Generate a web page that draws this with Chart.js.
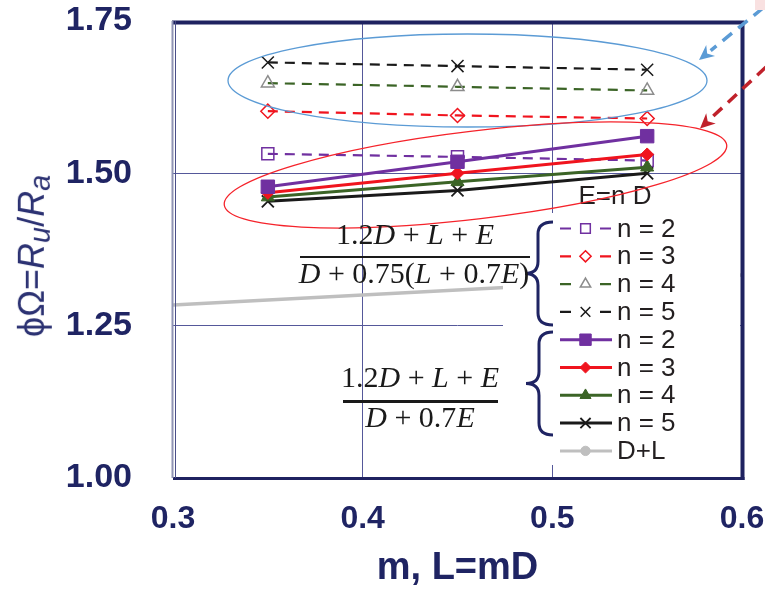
<!DOCTYPE html>
<html>
<head>
<meta charset="utf-8">
<script src="https://cdn.jsdelivr.net/npm/chart.js@4.4.1/dist/chart.umd.min.js"></script>
<style>
  body { margin: 0; background: #fff; }
  #wrap { position: relative; width: 765px; height: 589px; }
  .math { position: absolute; width: 300px; font-family: "Liberation Serif", serif; font-size: 30px; line-height: 30px; color: #1a1a1a; text-align: center; white-space: nowrap; }
  .bar { position: absolute; background: #1a1a1a; }
  #ytitle { position: absolute; left: 34px; top: 256px; transform: translate(-50%, -50%) rotate(-90deg); white-space: nowrap;
            font-family: "Liberation Sans", Arial, sans-serif; font-size: 36px; color: #2b3172; }
  #ytitle sub { font-size: 80%; vertical-align: -0.22em; }
</style>
</head>
<body>
<div id="wrap">
  <canvas id="myChart" width="765" height="589"></canvas>
  <div id="ytitle">ϕΩ=<i>R</i><sub><i>u</i></sub>/<i>R</i><sub><i>a</i></sub></div>

  <!-- ratio with 0.75 load combination -->
  <div class="math" style="left:265px; top:219px;">1.2<i>D</i> + <i>L</i> + <i>E</i></div>
  <div class="bar" style="left:300px; top:256px; width:230px; height:1.5px;"></div>
  <div class="math" style="left:264px; top:258px;"><i>D</i> + 0.75(<i>L</i> + 0.7<i>E</i>)</div>

  <!-- ratio with D + 0.7E -->
  <div class="math" style="left:270px; top:362px;">1.2<i>D</i> + <i>L</i> + <i>E</i></div>
  <div class="bar" style="left:343px; top:399.5px; width:155px; height:3px;"></div>
  <div class="math" style="left:270px; top:402px;"><i>D</i> + 0.7<i>E</i></div>
</div>

<script>
// m = L/D values where each case was evaluated
const mValues = [0.35, 0.45, 0.55];

// D + 0.75(L + 0.7E) denominator (dashed)
const dashN2 = [1.532, 1.527, 1.521];
const dashN3 = [1.602, 1.595, 1.590];
const dashN4 = [1.648, 1.642, 1.636];
const dashN5 = [1.682, 1.676, 1.670];

// D + 0.7E denominator (solid)
const solidN2 = [1.478, 1.519, 1.561];
const solidN3 = [1.468, 1.500, 1.531];
const solidN4 = [1.461, 1.486, 1.510];
const solidN5 = [1.454, 1.472, 1.500];

// D+L reference line
const dlM = [0.3, 0.6];
const dlValues = [1.284, 1.333];

const legendTitle = 'E=n D';
const seriesLabels = ['n = 2', 'n = 3', 'n = 4', 'n = 5', 'n = 2', 'n = 3', 'n = 4', 'n = 5', 'D+L'];

const xTicks = [0.3, 0.4, 0.5, 0.6];
const yTicks = [1.00, 1.25, 1.50, 1.75];

const NAVY = '#1f2463';
const PURPLE = '#7030a0';
const RED = '#f0141e';
const GREEN = '#3b6426';
const BLACK = '#1a1a1a';
const GRAY = '#8c8c8c';

function pts(xs, ys) {
    return xs.map((x, i) => ({ x: x, y: ys[i] }));
}

const NONE = 'rgba(0,0,0,0)';

// solid first so they sit on top, D+L last (bottom)
const datasets = [
    { label: seriesLabels[4], data: pts(mValues, solidN2), borderColor: PURPLE, backgroundColor: PURPLE, borderWidth: 3,
      pointStyle: 'rect', pointRadius: 9.5, pointBackgroundColor: PURPLE, pointBorderColor: PURPLE, pointBorderWidth: 1, legendIdx: 4 },
    { label: seriesLabels[5], data: pts(mValues, solidN3), borderColor: RED, backgroundColor: RED, borderWidth: 3,
      pointStyle: 'rectRot', pointRadius: 6.5, pointBackgroundColor: RED, pointBorderColor: RED, pointBorderWidth: 1, legendIdx: 5 },
    { label: seriesLabels[6], data: pts(mValues, solidN4), borderColor: GREEN, backgroundColor: GREEN, borderWidth: 3,
      pointStyle: 'triangle', pointRadius: 7.5, pointBackgroundColor: GREEN, pointBorderColor: GREEN, pointBorderWidth: 1, legendIdx: 6 },
    { label: seriesLabels[7], data: pts(mValues, solidN5), borderColor: BLACK, backgroundColor: BLACK, borderWidth: 3,
      pointStyle: 'crossRot', pointRadius: 8.5, pointBackgroundColor: BLACK, pointBorderColor: BLACK, pointBorderWidth: 1.8, legendIdx: 7 },

    { label: seriesLabels[0], data: pts(mValues, dashN2), borderColor: PURPLE, borderWidth: 2.2, borderDash: [10, 7],
      pointStyle: 'rect', pointRadius: 8.5, pointBackgroundColor: NONE, pointBorderColor: PURPLE, pointBorderWidth: 1.5, legendIdx: 0 },
    { label: seriesLabels[1], data: pts(mValues, dashN3), borderColor: RED, borderWidth: 2.2, borderDash: [10, 7],
      pointStyle: 'rectRot', pointRadius: 7, pointBackgroundColor: NONE, pointBorderColor: RED, pointBorderWidth: 1.5, legendIdx: 1 },
    { label: seriesLabels[2], data: pts(mValues, dashN4), borderColor: GREEN, borderWidth: 2.2, borderDash: [10, 7],
      pointStyle: 'triangle', pointRadius: 7.5, pointBackgroundColor: NONE, pointBorderColor: GRAY, pointBorderWidth: 1.5, legendIdx: 2 },
    { label: seriesLabels[3], data: pts(mValues, dashN5), borderColor: BLACK, borderWidth: 2.2, borderDash: [10, 7],
      pointStyle: 'crossRot', pointRadius: 8.5, pointBackgroundColor: NONE, pointBorderColor: BLACK, pointBorderWidth: 1.5, legendIdx: 3 },

    { label: seriesLabels[8], data: pts(dlM, dlValues), borderColor: '#bfbfbf', backgroundColor: '#bfbfbf', borderWidth: 3.5,
      pointStyle: 'circle', pointRadius: 0, pointBackgroundColor: '#bfbfbf', pointBorderColor: '#bfbfbf', pointBorderWidth: 1, legendIdx: 8 }
];

function drawArrow(ctx, x0, y0, x1, y1, color) {
    const ang = Math.atan2(y1 - y0, x1 - x0);
    const head = 15;
    ctx.save();
    ctx.strokeStyle = color;
    ctx.fillStyle = color;
    ctx.lineWidth = 3.5;
    ctx.setLineDash([12, 8]);
    ctx.beginPath();
    ctx.moveTo(x0, y0);
    ctx.lineTo(x1 - Math.cos(ang) * head, y1 - Math.sin(ang) * head);
    ctx.stroke();
    ctx.setLineDash([]);
    ctx.beginPath();
    ctx.moveTo(x1, y1);
    ctx.lineTo(x1 - head * Math.cos(ang) + 7 * Math.sin(ang), y1 - head * Math.sin(ang) - 7 * Math.cos(ang));
    ctx.lineTo(x1 - head * 0.7 * Math.cos(ang), y1 - head * 0.7 * Math.sin(ang));
    ctx.lineTo(x1 - head * Math.cos(ang) - 7 * Math.sin(ang), y1 - head * Math.sin(ang) + 7 * Math.cos(ang));
    ctx.closePath();
    ctx.fill();
    ctx.restore();
}

function drawBrace(ctx, xEnd, yTop, yBot, xMid, xTip) {
    const yc = (yTop + yBot) / 2;
    const r = 12;
    ctx.beginPath();
    ctx.moveTo(xEnd, yTop);
    ctx.quadraticCurveTo(xMid, yTop, xMid, yTop + r);
    ctx.lineTo(xMid, yc - r);
    ctx.quadraticCurveTo(xMid, yc, xTip, yc);
    ctx.quadraticCurveTo(xMid, yc, xMid, yc + r);
    ctx.lineTo(xMid, yBot - r);
    ctx.quadraticCurveTo(xMid, yBot, xEnd, yBot);
    ctx.stroke();
}

const overlay = {
    id: 'overlay',
    afterDraw(chart) {
        const ctx = chart.ctx;
        const { left, right, top, bottom } = chart.chartArea;
        ctx.save();

        // white panel behind the legend
        ctx.fillStyle = '#fff';
        ctx.fillRect(503, 213, right - 505, 252);

        // legend
        ctx.font = '26px "Liberation Sans", Arial, sans-serif';
        ctx.fillStyle = '#231f20';
        ctx.textAlign = 'center';
        ctx.textBaseline = 'middle';
        ctx.fillText(legendTitle, 615, 197);

        const rowY0 = 228.5, rowGap = 27.8;
        const sorted = datasets.slice().sort((a, b) => a.legendIdx - b.legendIdx);
        sorted.forEach((ds, i) => {
            const y = rowY0 + i * rowGap;
            ctx.save();
            ctx.strokeStyle = ds.borderColor;
            ctx.lineWidth = ds.borderDash ? 2.2 : 3;
            ctx.beginPath();
            if (ds.borderDash) {
                ctx.moveTo(560, y); ctx.lineTo(571, y);
                ctx.moveTo(600, y); ctx.lineTo(611, y);
            } else {
                ctx.moveTo(560, y); ctx.lineTo(612, y);
            }
            ctx.stroke();
            ctx.fillStyle = ds.pointBackgroundColor;
            ctx.strokeStyle = ds.pointBorderColor;
            ctx.lineWidth = ds.pointBorderWidth;
            const r = ds.pointRadius || 5.5;
            Chart.helpers.drawPoint(ctx, { pointStyle: ds.pointStyle, radius: ds.borderDash ? r * 0.8 : r * 0.85, rotation: 0, borderWidth: ds.pointBorderWidth }, 585.5, y);
            ctx.restore();
            ctx.fillStyle = '#231f20';
            ctx.textAlign = 'left';
            ctx.fillText(ds.label, 617, y + 1);
        });

        // braces grouping the legend
        ctx.strokeStyle = NAVY;
        ctx.lineWidth = 3;
        drawBrace(ctx, 553, 222, 325, 538, 525);
        drawBrace(ctx, 553, 332, 435, 539, 526);

        // ellipses around the two groups
        ctx.lineWidth = 1.3;
        ctx.strokeStyle = '#5b9bd5';
        ctx.beginPath();
        ctx.ellipse(467.5, 80.5, 239.5, 46.5, 0, 0, Math.PI * 2);
        ctx.stroke();
        ctx.strokeStyle = '#f5232b';
        ctx.beginPath();
        ctx.ellipse(475.5, 175, 253, 44, -6.8 * Math.PI / 180, 0, Math.PI * 2);
        ctx.stroke();

        // frame
        ctx.strokeStyle = '#1f2260';
        ctx.lineWidth = 4;
        ctx.beginPath();
        ctx.moveTo(left - 1, top + 1.5);
        ctx.lineTo(right + 2.5, top + 1.5);
        ctx.moveTo(right + 0.5, top);
        ctx.lineTo(right + 0.5, bottom + 2);
        ctx.stroke();
        ctx.lineWidth = 3;
        ctx.beginPath();
        ctx.moveTo(left, bottom + 0.5);
        ctx.lineTo(right + 2.5, bottom + 0.5);
        ctx.stroke();
        ctx.lineWidth = 2;
        ctx.strokeStyle = '#9094b4';
        ctx.beginPath();
        ctx.moveTo(left - 0.5, top);
        ctx.lineTo(left - 0.5, bottom);
        ctx.stroke();
        ctx.lineWidth = 1;
        ctx.strokeStyle = '#4a4e88';
        ctx.beginPath();
        ctx.moveTo(left + 2.5, top);
        ctx.lineTo(left + 2.5, bottom);
        ctx.stroke();

        // pointer arrows from outside
        drawArrow(ctx, 763, 8, 699, 60, '#5b9bd5');
        drawArrow(ctx, 766, 67, 700, 128.5, '#c0212b');
        ctx.fillStyle = '#f9e1e1';
        ctx.fillRect(755, 0, 10, 10);

        ctx.restore();
    }
};

const ctx = document.querySelector('#myChart');

new Chart(ctx, {
    type: 'line',
    data: { datasets: datasets },
    options: {
        responsive: false,
        animation: false,
        layout: { padding: { top: 21, right: 23, left: 0, bottom: 0 } },
        plugins: { legend: { display: false }, tooltip: { enabled: false } },
        scales: {
            x: {
                type: 'linear',
                min: 0.3,
                max: 0.6,
                afterFit: s => { s.height = 111; s.paddingLeft = 0; s.paddingRight = 0; },
                afterBuildTicks: s => { s.ticks = xTicks.map(v => ({ value: v })); },
                border: { display: false },
                grid: {
                    drawTicks: false,
                    lineWidth: 1,
                    color: c => (c.tick && (c.tick.value === 0.4 || c.tick.value === 0.5)) ? '#55589a' : NONE
                },
                ticks: {
                    padding: 22,
                    color: NAVY,
                    font: { family: '"Liberation Sans", Arial, sans-serif', size: 32, weight: 'bold' },
                    callback: v => v.toFixed(1)
                },
                title: {
                    display: true,
                    text: 'm, L=mD',
                    color: NAVY,
                    padding: 1,
                    font: { family: '"Liberation Sans", Arial, sans-serif', size: 38, weight: 'bold', lineHeight: 1 }
                }
            },
            y: {
                min: 1.0,
                max: 1.75,
                afterFit: s => { s.width = 173; s.paddingTop = 0; s.paddingBottom = 0; },
                afterBuildTicks: s => { s.ticks = yTicks.map(v => ({ value: v })); },
                border: { display: false },
                grid: {
                    drawTicks: false,
                    lineWidth: 1,
                    color: c => (c.tick && (c.tick.value === 1.25 || c.tick.value === 1.5)) ? '#55589a' : NONE
                },
                ticks: {
                    padding: 41,
                    color: NAVY,
                    font: { family: '"Liberation Sans", Arial, sans-serif', size: 34, weight: 'bold' },
                    callback: v => v.toFixed(2)
                }
            }
        }
    },
    plugins: [overlay]
});
</script>
</body>
</html>
